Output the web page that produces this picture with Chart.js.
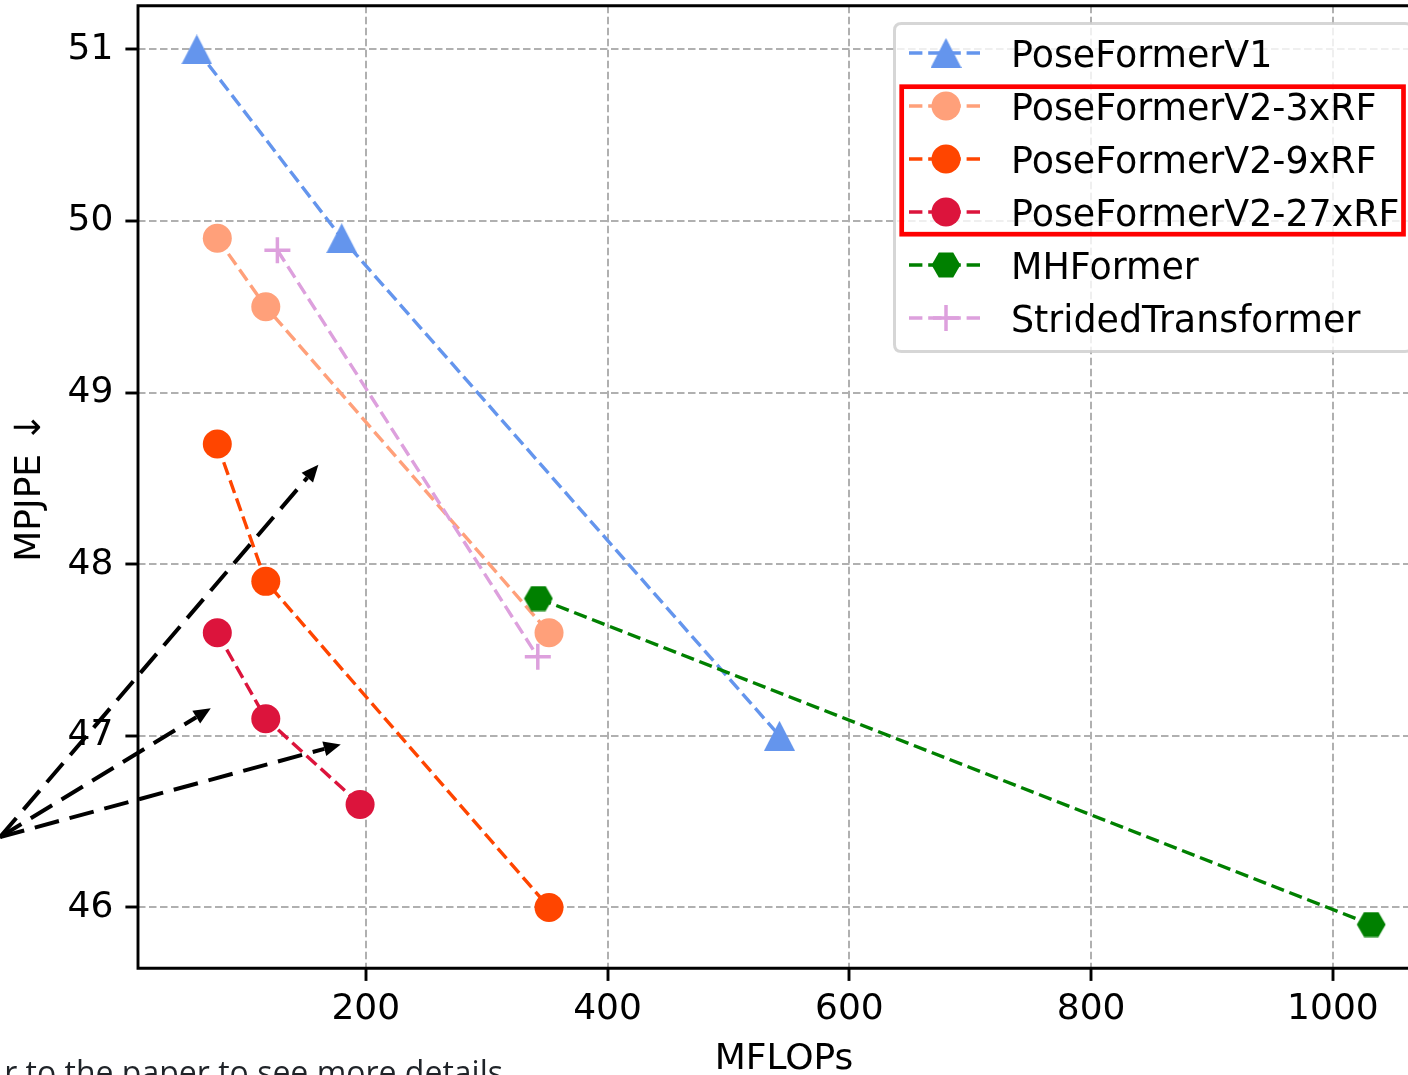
<!DOCTYPE html>
<html><head><meta charset="utf-8">
<script src="https://cdn.jsdelivr.net/npm/chart.js@4.4.1/dist/chart.umd.min.js"></script>
<style>html,body{margin:0;padding:0;overflow:hidden;background:#fff;width:1408px;height:1075px}canvas{display:block}</style>
</head><body><canvas id="c" width="1440" height="1080" style="width:1440px;height:1080px"></canvas>
<script>
// ---- data ----
const seriesNames = ['PoseFormerV1','PoseFormerV2-3xRF','PoseFormerV2-9xRF','PoseFormerV2-27xRF','MHFormer','StridedTransformer'];
const poseFormerV1_x = [60.2, 180.1, 542.2];
const poseFormerV1_y = [51.0, 49.9, 47.0];
const v2_3xRF_x = [77.2, 117.3, 351.6];
const v2_3xRF_y = [49.9, 49.5, 47.6];
const v2_9xRF_x = [77.2, 117.3, 351.6];
const v2_9xRF_y = [48.7, 47.9, 46.0];
const v2_27xRF_x = [77.2, 117.3, 195.3];
const v2_27xRF_y = [47.6, 47.1, 46.6];
const mhFormer_x = [342.8, 1031.7];
const mhFormer_y = [47.8, 45.9];
const strided_x = [126.9, 342.3];
const strided_y = [49.83, 47.46];
const xTicks = [200, 400, 600, 800, 1000];
const yTicks = [46, 47, 48, 49, 50, 51];
const arrowTail = [-102.5, 46.41];
const arrowHeadsX = [160.8, 71.8, 179.3];
const arrowHeadsY = [48.58, 47.16, 46.95];
const xTitle = 'MFLOPs';
const yTitle = 'MPJPE ↓';
const captionText = 'r to the paper to see more details';

// ---- styles ----
const colors = ['#6495ED', '#FFA07A', '#FF4500', '#DC143C', '#008000', '#DDA0DD'];
function mkTri(col) {
  const c = document.createElement('canvas'); c.width = 31; c.height = 30;
  const g = c.getContext('2d'); g.fillStyle = col; g.beginPath();
  g.moveTo(15.5, 0); g.lineTo(31, 30); g.lineTo(0, 30); g.closePath(); g.fill(); return c;
}
function mkHex(col) {
  const c = document.createElement('canvas'); c.width = 30; c.height = 26;
  const g = c.getContext('2d'); g.fillStyle = col; g.beginPath();
  for (let k = 0; k < 6; k++) { const a = k * Math.PI / 3; const px = 15 + 14.4 * Math.cos(a), py = 13 + 14.4 * Math.sin(a); k ? g.lineTo(px, py) : g.moveTo(px, py); }
  g.closePath(); g.fill(); return c;
}
const triImg = mkTri(colors[0]);
const hexImg = mkHex(colors[4]);
const pStyles = [triImg, 'circle', 'circle', 'circle', hexImg, 'cross'];
const xsAll = [poseFormerV1_x, v2_3xRF_x, v2_9xRF_x, v2_27xRF_x, mhFormer_x, strided_x];
const ysAll = [poseFormerV1_y, v2_3xRF_y, v2_9xRF_y, v2_27xRF_y, mhFormer_y, strided_y];
const LINE_DASH = [13.4, 5.8];
const FONT = '"DejaVu Sans", sans-serif';

const datasets = seriesNames.map((name, i) => ({
  label: name,
  data: xsAll[i].map((x, k) => ({ x: x, y: ysAll[i][k] })),
  showLine: true,
  borderColor: colors[i],
  backgroundColor: colors[i],
  borderWidth: 3.4,
  borderDash: LINE_DASH,
  tension: 0,
  fill: false,
  pointStyle: pStyles[i],
  pointRadius: pStyles[i] === 'cross' ? 13 : 14.5,
  pointHoverRadius: pStyles[i] === 'cross' ? 13 : 14.5,
  pointBackgroundColor: colors[i],
  pointBorderColor: colors[i],
  pointBorderWidth: pStyles[i] === 'cross' ? 3.5 : 0,
  order: seriesNames.length - i
}));

// ---- plugins ----
const framePlugin = {
  id: 'frame',
  afterDatasetsDraw(chart) {
    const { ctx, chartArea: a } = chart;
    ctx.save();
    ctx.strokeStyle = '#000'; ctx.lineWidth = 2.9; ctx.lineCap = 'square';
    ctx.beginPath();
    ctx.moveTo(a.left, a.bottom); ctx.lineTo(a.left, a.top); ctx.lineTo(a.right, a.top); ctx.lineTo(a.right, a.bottom); ctx.lineTo(a.left, a.bottom);
    ctx.stroke();
    ctx.restore();
  }
};

const arrowPlugin = {
  id: 'arrows',
  afterDatasetsDraw(chart) {
    const { ctx, scales: { x, y } } = chart;
    const tx = x.getPixelForValue(arrowTail[0]), ty = y.getPixelForValue(arrowTail[1]);
    ctx.save();
    ctx.strokeStyle = '#000'; ctx.fillStyle = '#000'; ctx.lineWidth = 4;
    arrowHeadsX.forEach((hxv, i) => {
      const hx = x.getPixelForValue(hxv), hy = y.getPixelForValue(arrowHeadsY[i]);
      const ang = Math.atan2(hy - ty, hx - tx);
      const L = 17, W = 7.5;
      const bx = hx - L * Math.cos(ang), by = hy - L * Math.sin(ang);
      ctx.setLineDash([25, 11]); ctx.lineDashOffset = 0;
      ctx.beginPath(); ctx.moveTo(tx, ty); ctx.lineTo(bx, by); ctx.stroke();
      ctx.setLineDash([]);
      ctx.beginPath();
      ctx.moveTo(hx, hy);
      ctx.lineTo(bx + W * Math.sin(ang), by - W * Math.cos(ang));
      ctx.lineTo(bx - W * Math.sin(ang), by + W * Math.cos(ang));
      ctx.closePath(); ctx.fill();
    });
    ctx.restore();
  }
};

function drawMarker(ctx, style, col, cx, cy) {
  if (style === 'circle') {
    ctx.fillStyle = col; ctx.beginPath(); ctx.arc(cx, cy, 14.5, 0, Math.PI * 2); ctx.fill();
  } else if (style === 'cross') {
    ctx.strokeStyle = col; ctx.lineWidth = 3.5; ctx.setLineDash([]);
    ctx.beginPath(); ctx.moveTo(cx - 13, cy); ctx.lineTo(cx + 13, cy); ctx.moveTo(cx, cy - 13); ctx.lineTo(cx, cy + 13); ctx.stroke();
  } else {
    ctx.drawImage(style, cx - style.width / 2, cy - style.height / 2);
  }
}

const legendPlugin = {
  id: 'mplLegend',
  afterDraw(chart) {
    const ctx = chart.ctx;
    ctx.save();
    const L = 894.5, T = 23.5, R = 1412, B = 351.5, r = 7;
    ctx.beginPath();
    ctx.moveTo(L + r, T); ctx.lineTo(R - r, T); ctx.quadraticCurveTo(R, T, R, T + r);
    ctx.lineTo(R, B - r); ctx.quadraticCurveTo(R, B, R - r, B);
    ctx.lineTo(L + r, B); ctx.quadraticCurveTo(L, B, L, B - r);
    ctx.lineTo(L, T + r); ctx.quadraticCurveTo(L, T, L + r, T); ctx.closePath();
    ctx.fillStyle = 'rgba(255,255,255,0.8)'; ctx.fill();
    ctx.strokeStyle = 'rgba(204,204,204,0.8)'; ctx.lineWidth = 3; ctx.stroke();
    chart.data.datasets.forEach((ds, i) => {
      const yRow = 53 + i * 53;
      ctx.strokeStyle = ds.borderColor; ctx.lineWidth = 3.4; ctx.setLineDash(LINE_DASH); ctx.lineDashOffset = 0;
      ctx.beginPath(); ctx.moveTo(909, yRow); ctx.lineTo(981, yRow); ctx.stroke();
      ctx.setLineDash([]);
      drawMarker(ctx, ds.pointStyle, ds.borderColor, 946, yRow);
      ctx.fillStyle = '#000'; ctx.font = '36.4px ' + FONT; ctx.textBaseline = 'alphabetic'; ctx.textAlign = 'left';
      ctx.fillText(ds.label, 1011, yRow + 13.5);
    });
    ctx.strokeStyle = '#ff0000'; ctx.lineWidth = 4.7; ctx.setLineDash([]);
    ctx.strokeRect(901.7, 86.7, 1403.5 - 901.7, 234.2 - 86.7);
    ctx.restore();
  }
};

const captionPlugin = {
  id: 'caption',
  afterDraw(chart) {
    const ctx = chart.ctx;
    ctx.save();
    ctx.fillStyle = '#1f2328';
    ctx.font = '32px "Open Sans", "Noto Sans", sans-serif';
    ctx.textAlign = 'right'; ctx.textBaseline = 'alphabetic';
    ctx.fillText(captionText, 503, 1084);
    ctx.restore();
  }
};

function noPad(s) { s.paddingTop = 0; s.paddingBottom = 0; s.paddingLeft = 0; s.paddingRight = 0; }

new Chart(document.getElementById('c'), {
  type: 'scatter',
  data: { datasets: datasets },
  options: {
    responsive: false,
    animation: false,
    devicePixelRatio: 1,
    layout: { autoPadding: false, padding: { left: 0, top: 5.7, right: 10, bottom: 0 } },
    plugins: { legend: { display: false }, tooltip: { enabled: false } },
    scales: {
      x: {
        type: 'linear', min: 11.6, max: 1080.3,
        afterFit(s) { s.height = 1080 - 968.3; noPad(s); },
        afterBuildTicks(s) { s.ticks = xTicks.map(v => ({ value: v })); },
        ticks: { includeBounds: false, color: '#000', font: { family: FONT, size: 36 }, padding: 7, maxRotation: 0, autoSkip: false, callback: v => String(v) },
        grid: { color: '#b0b0b0', lineWidth: 2, tickLength: 12.6, tickWidth: 2.9, tickColor: '#000', tickBorderDash: [] },
        border: { display: false, dash: [7.5, 3.5] },
        title: { display: true, text: xTitle, color: '#000', font: { family: FONT, size: 36 }, padding: { top: 0, bottom: -1.5 } }
      },
      y: {
        type: 'linear', min: 45.645, max: 51.255,
        afterFit(s) { s.width = 138; noPad(s); },
        afterBuildTicks(s) { s.ticks = yTicks.map(v => ({ value: v })); },
        ticks: { includeBounds: false, color: '#000', font: { family: FONT, size: 36 }, padding: 12, autoSkip: false, callback: v => String(v) },
        grid: { color: '#b0b0b0', lineWidth: 2, tickLength: 12.6, tickWidth: 2.9, tickColor: '#000', tickBorderDash: [] },
        border: { display: false, dash: [7.5, 3.5] },
        title: { display: true, text: yTitle, color: '#000', font: { family: FONT, size: 36 }, padding: { top: 9, bottom: 0 } }
      }
    }
  },
  plugins: [framePlugin, arrowPlugin, legendPlugin, captionPlugin]
});
</script>
</body></html>
